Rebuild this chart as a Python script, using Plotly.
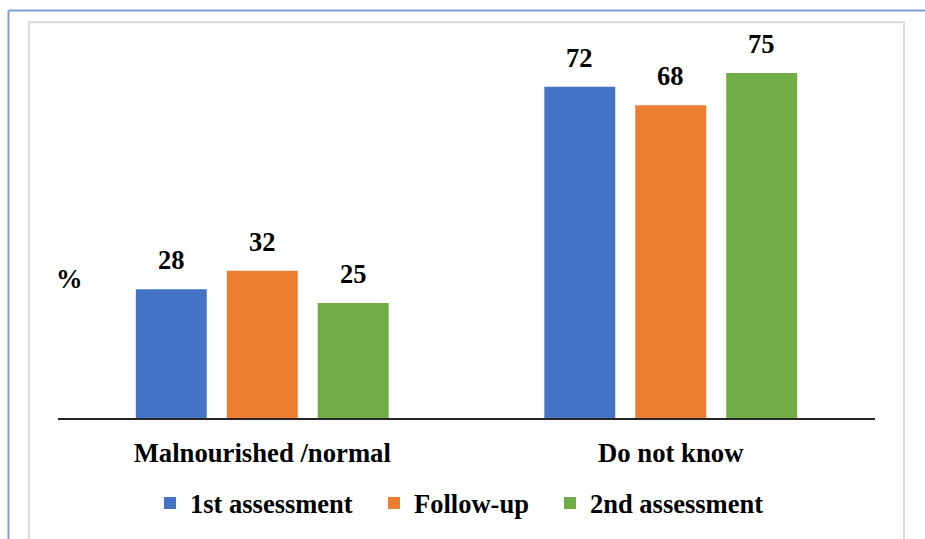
import plotly.graph_objects as go

categories = ["Malnourished /normal", "Do not know"]
series_names = ["1st assessment", "Follow-up", "2nd assessment"]
values_1st = [28, 72]
values_follow = [32, 68]
values_2nd = [25, 75]
colors = ["#4472C4", "#ED7D31", "#70AD47"]

series_values = [values_1st, values_follow, values_2nd]

FONT = "Liberation Serif"
BARGAP = 0.332
legend_ids = ["legend", "legend2", "legend3"]
legend_x = [0.1126, 0.3868, 0.6022]

fig = go.Figure()
for name, vals, col, lid in zip(series_names, series_values, colors, legend_ids):
    fig.add_trace(go.Bar(
        x=categories, y=vals, name=name, legend=lid,
        marker=dict(color=col, line=dict(width=0)),
    ))

# data labels above bars
n = len(series_names)
slot = (1 - BARGAP) / n
for si, vals in enumerate(series_values):
    for ci, v in enumerate(vals):
        fig.add_annotation(
            x=ci + (si - (n - 1) / 2) * slot, y=v, xref="x", yref="y",
            text=str(v), showarrow=False, xanchor="center", yanchor="bottom", yshift=12,
            font=dict(family=FONT, size=26.5, color="black", weight="bold"),
        )

# y-axis title "%"
fig.add_annotation(
    x=0.0135, y=0.379, xref="paper", yref="paper", text="%", showarrow=False,
    xanchor="center", yanchor="middle",
    font=dict(family=FONT, size=26.5, color="black", weight="bold"),
)

# frame shapes
fig.add_shape(type="rect", xref="paper", yref="paper",
              x0=-0.0355, x1=1.0355, y0=-0.35, y1=1.0753,
              line=dict(color="#D9D9D9", width=2), fillcolor="rgba(0,0,0,0)", layer="below")
fig.add_shape(type="line", xref="paper", yref="paper",
              x0=-0.0606, x1=1.1, y0=1.1075, y1=1.1075,
              line=dict(color="#7F9ED8", width=2))
fig.add_shape(type="line", xref="paper", yref="paper",
              x0=-0.0606, x1=-0.0606, y0=1.1075, y1=-0.35,
              line=dict(color="#7F9ED8", width=2))

legend_common = dict(
    orientation="h", xanchor="left", y=-0.232, yanchor="middle",
    font=dict(family=FONT, size=26.5, color="black", weight="bold"),
    itemclick=False, bgcolor="rgba(0,0,0,0)", borderwidth=0,
)

fig.update_layout(
    template="none",
    width=925, height=539,
    margin=dict(l=58, r=50, t=50, b=117, pad=0),
    paper_bgcolor="white", plot_bgcolor="white",
    barmode="group", bargap=BARGAP, bargroupgap=0.22,
    showlegend=True,
    font=dict(family=FONT),
    legend=dict(x=legend_x[0], **legend_common),
    legend2=dict(x=legend_x[1], **legend_common),
    legend3=dict(x=legend_x[2], **legend_common),
    xaxis=dict(
        automargin=False,
        showline=True, linecolor="#262626", linewidth=2,
        ticks="", showgrid=False, zeroline=False,
        ticklabelstandoff=10,
        tickfont=dict(family=FONT, size=26.7, color="black", weight="bold"),
    ),
    yaxis=dict(range=[0, 80], visible=False, showgrid=False, zeroline=False,
               automargin=False),
)

fig.write_html("out.html")
